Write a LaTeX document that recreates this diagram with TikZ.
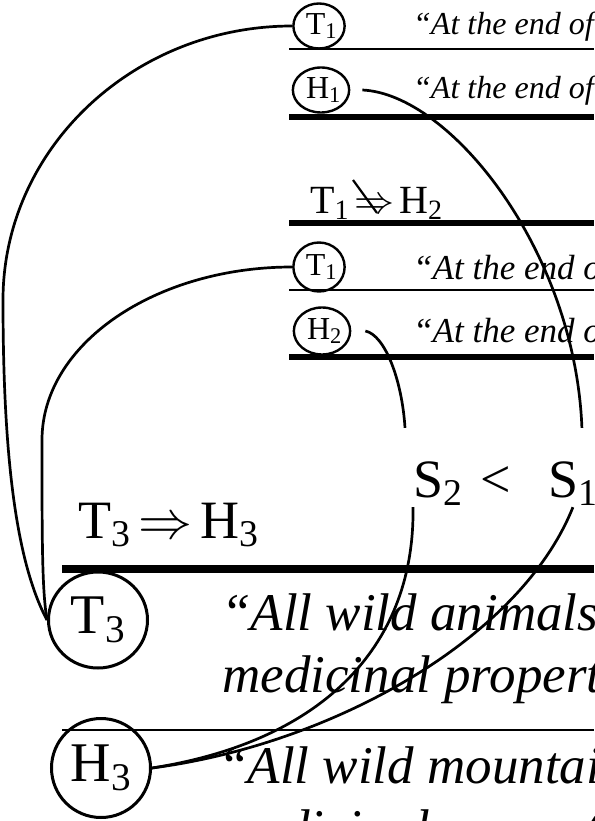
\RequirePackage{fix-cm}
\documentclass[tikz,border=0pt]{standalone}
\usepackage{fontspec}
\setmainfont{Liberation Serif}
\usetikzlibrary{shapes.geometric, positioning}

\begin{document}
\begin{tikzpicture}[x=1pt, y=-1pt,
    tagsmall/.style={ellipse, draw, line width=2.4pt, minimum width=48pt, minimum height=45pt, inner sep=0pt, font=\fontsize{32}{32}\selectfont},
    tagbig/.style={ellipse, draw, line width=3pt, minimum width=99pt, minimum height=96pt, inner sep=0pt, font=\fontsize{56}{56}\selectfont},
    claimsmall/.style={anchor=base west, inner sep=0pt, font=\fontsize{32}{32}\selectfont\itshape},
    claimmid/.style={anchor=base west, inner sep=0pt, font=\fontsize{35}{35}\selectfont\itshape},
    claimbig/.style={anchor=base west, inner sep=0pt, font=\fontsize{53}{53}\selectfont\itshape},
    relation/.style={anchor=base west, inner sep=0pt},
    score/.style={anchor=base west, inner sep=0pt, text height=69pt, text depth=10pt, font=\fontsize{54}{54}\selectfont},
    thinrule/.style={line width=1.5pt},
    thickrule/.style={line width=6pt},
    link/.style={line width=2.7pt}
]
\useasboundingbox (0,0) rectangle (594,821);
\clip (0,0) rectangle (594,821);

% first pair
\node (t1a) [tagsmall] at (319,26) {\hspace*{5pt}T\textsubscript{1}};
\node (row1) [claimsmall] at (413,35) {“At the end of};
\draw [thinrule] (289,49) -- (594,49);
\node (h1) [tagsmall] at (321,90) {\hspace*{5pt}H\textsubscript{1}};
\node (row2) [claimsmall] at (413,99) {“At the end of};
\draw [thickrule] (289,117) -- (594,117);

% second pair
\node (ent12) [relation, font=\fontsize{40}{40}\selectfont] at (310,213) {T\textsubscript{1}\hspace{5pt}$\Rightarrow$\hspace{5pt}H\textsubscript{2}};
\draw [line width=2.2pt] (353,180) -- (377,213);
\draw [thickrule] (289,223) -- (594,223);
\node (t1b) [tagsmall, minimum width=49pt, minimum height=49pt] at (319,267) {\hspace*{5pt}T\textsubscript{1}};
\node (row3) [claimmid] at (413,279) {“At the end of};
\draw [thinrule] (289,290) -- (594,290);
\node (h2) [tagsmall, minimum width=51pt, minimum height=47pt] at (322,331) {\hspace*{5pt}H\textsubscript{2}};
\node (row4) [claimmid] at (413,342) {“At the end of};
\draw [thickrule] (289,357) -- (594,357);

% scores
\node (s2) [score] at (413,497) {S\textsubscript{2}};
\node (lt) [relation, font=\fontsize{54}{54}\selectfont] at (480,497) {<};
\node (s1) [score] at (548,497) {S\textsubscript{1}};

% third pair
\node (ent3) [relation, font=\fontsize{54}{54}\selectfont] at (78,538) {T\textsubscript{3}\hspace{8pt}$\Rightarrow$\hspace{8pt}H\textsubscript{3}};
\draw [line width=8pt] (62,569) -- (594,569);
\node (t3) [tagbig] at (98,620) {T\textsubscript{3}};
\node (row5) [claimbig] at (221,630) {“All wild animals};
\node (row6) [claimbig] at (222,692) {medicinal properties};
\draw [thinrule] (62,730) -- (594,730);
\node (h3) [tagbig, minimum height=99pt] at (101,768) {H\textsubscript{3}};
\node (row7) [claimbig] at (218,783) {“All wild mountain};
\node (row8) [claimbig] at (221,846) {medicinal properties};

% links
\draw [link] (t1a.west) .. controls (133,26) and (3,149) .. (3,300) .. controls (3,450) and (15,560) .. (t3.west);
\draw [link] (t1b.west) .. controls (155,267) and (42,344) .. (42,440) .. controls (42,540) and (42,590) .. (t3.west);
\draw [link] ([xshift=12pt]h1.east) .. controls (450,94) and (575,250) .. ([xshift=9pt]s1.north);
\draw [link] ([xshift=14pt]h2.east) .. controls (385,335) and (402,380) .. ([xshift=-8pt]s2.north west);
\draw [link] (s2.south west) .. controls (415,640) and (330,740) .. (h3.east);
\draw [link] (s1.south) .. controls (520,640) and (330,745) .. (h3.east);
\end{tikzpicture}
\end{document}
